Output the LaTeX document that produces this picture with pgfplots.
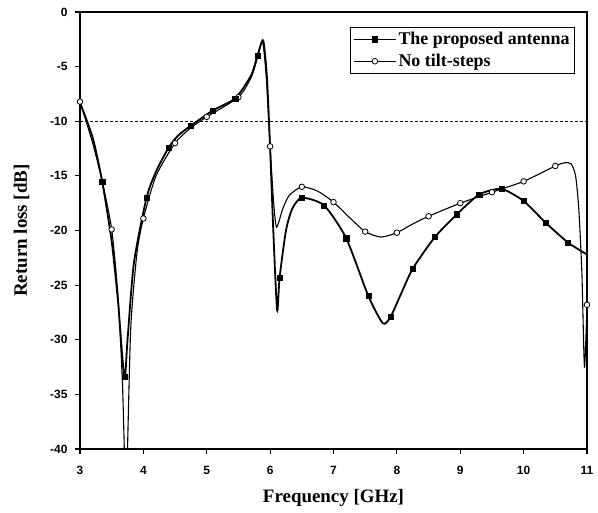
\documentclass[border=0pt]{standalone}
\usepackage{fontspec}
\setmainfont{Liberation Serif}
\newfontfamily\arialf{Liberation Sans}
\usepackage{pgfplots}
\pgfplotsset{compat=1.18}
\begin{document}
\begin{tikzpicture}
\begin{axis}[
  scale only axis, width=507bp, height=437bp,
  xmin=3, xmax=11, ymin=-40, ymax=0,
  xtick={3,4,5,6,7,8,9,10,11},
  xticklabels={3,4,5,6,7,8,9,10,11},
  ytick={-40,-35,-30,-25,-20,-15,-10,-5,0},
  yticklabels={-40,-35,-30,-25,-20,-15,-10,-5,0},
  xtick pos=bottom, ytick pos=left, tick align=outside,
  major tick length=5bp, minor tick num=0,
  axis line style={line width=1.2bp},
  tick style={line width=1.2bp, black},
  tick label style={font=\arialf\bfseries\fontsize{12}{14}\selectfont},
  xticklabel style={yshift=-9bp},
  yticklabel style={xshift=-4bp},
  xlabel={\bfseries Frequency [GHz]},
  ylabel={\bfseries Return loss [dB]},
  xlabel style={yshift=-8bp},
  ylabel style={yshift=14bp},
  label style={font=\fontsize{19}{21}\selectfont},
  legend style={at={(1,1)}, anchor=north east, xshift=-12bp, yshift=-15bp,
     draw=black, line width=0.8bp, font=\bfseries\fontsize{18}{20}\selectfont,
     row sep=4bp, inner sep=3bp},
  legend cell align=left,
  legend image code/.code={\draw[mark repeat=2,mark phase=2,#1] plot coordinates {(0bp,0bp) (21bp,0bp) (42bp,0bp)};},
]
\addlegendimage{black, line width=1.3bp, mark=square*, mark size=2.5bp, mark options={solid, fill=black}}
\addlegendentry{The proposed antenna}
\addlegendimage{black, line width=1bp, mark=*, mark size=2.8bp, mark options={solid, fill=white, line width=0.8bp}}
\addlegendentry{No tilt-steps}
% -10 dB reference
\addplot[forget plot, black, line width=0.7bp, dashed, dash pattern=on 3bp off 2bp] coordinates {(3,-10) (11,-10)};
% No tilt-steps line
\addplot[forget plot, black, line width=1.1bp, smooth, tension=0.4] coordinates {
(3,-8.2) (3.2,-12) (3.35,-15.5) (3.5,-19.9) (3.6,-26) (3.67,-34) (3.71,-42)
(3.74,-42) (3.8,-29) (3.9,-22) (4.0,-18.9) (4.2,-15) (4.5,-12.0) (4.75,-10.6)
(5.0,-9.6) (5.5,-7.8) (5.7,-6) (5.8,-4.2) (5.88,-2.7) (5.94,-6) (6.0,-12.3)
(6.05,-17) (6.1,-19.7) (6.2,-18) (6.3,-16.8) (6.5,-16.0) (6.75,-16.4) (7.0,-17.4)
(7.25,-18.8) (7.5,-20.1) (7.75,-20.6) (8.0,-20.2) (8.25,-19.4) (8.5,-18.7)
(9.0,-17.5) (9.5,-16.5) (10.0,-15.5) (10.5,-14.1) (10.65,-13.8) (10.75,-13.9)
(10.82,-15) (10.87,-18) (10.92,-24) (10.96,-32.5) (11.0,-26.8)};
% Proposed antenna line
\addplot[forget plot, black, line width=1.8bp, smooth, tension=0.4] coordinates {
(3,-8.3) (3.2,-11.5) (3.35,-15.5) (3.5,-21) (3.6,-26.5) (3.7,-33.5) (3.75,-30)
(3.85,-23) (4.05,-17.0) (4.2,-14.6) (4.4,-12.4) (4.55,-11.3) (4.75,-10.4)
(5.1,-9.0) (5.45,-7.9) (5.7,-5.8) (5.8,-4.0) (5.89,-2.6) (5.95,-6) (6.0,-12.5)
(6.05,-20) (6.11,-27.3) (6.15,-24.3) (6.25,-20) (6.35,-18) (6.5,-17.0)
(6.85,-17.7) (7.2,-20.7) (7.55,-26.0) (7.78,-28.5) (7.9,-27.9) (8.05,-26)
(8.25,-23.5) (8.6,-20.6) (8.95,-18.5) (9.3,-16.7) (9.65,-16.2) (10.0,-17.3)
(10.35,-19.3) (10.7,-21.1) (11,-22.2)};
% markers
\addplot[forget plot, only marks, mark=*, mark size=2.8bp, mark options={fill=white, draw=black, line width=0.8bp}] coordinates {
(3.0,-8.2) (3.5,-19.9) (4.0,-18.9) (4.5,-12.0) (5.0,-9.6) (5.5,-7.8) (6.0,-12.3)
(6.5,-16.0) (7.0,-17.4) (7.5,-20.1) (8.0,-20.2) (8.5,-18.7) (9.0,-17.5)
(9.5,-16.5) (10.0,-15.5) (10.5,-14.1) (11.0,-26.8)};
\addplot[forget plot, only marks, mark=square*, mark size=2.6bp, mark options={fill=black, draw=black}] coordinates {
(3.35,-15.5) (3.7,-33.4) (4.05,-17) (4.4,-12.4) (4.75,-10.4) (5.1,-9.0)
(5.45,-7.9) (5.8,-4.0) (6.15,-24.3) (6.5,-17.0) (6.85,-17.7) (7.2,-20.7)
(7.55,-26.0) (7.9,-27.9) (8.25,-23.5) (8.6,-20.6) (8.95,-18.5) (9.3,-16.7)
(9.65,-16.2) (10.0,-17.3) (10.35,-19.3) (10.7,-21.1)};
\end{axis}
\pgfresetboundingbox
\path[use as bounding box] (-80bp,-64bp) rectangle (518bp,449bp);
\end{tikzpicture}
\end{document}
